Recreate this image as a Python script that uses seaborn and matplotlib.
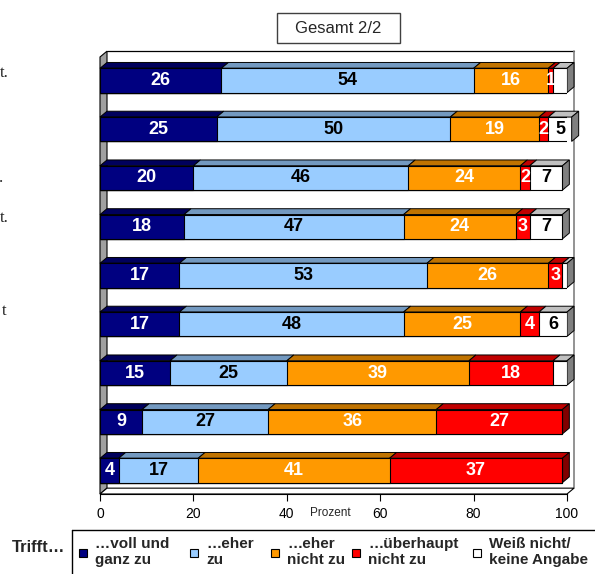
import matplotlib
matplotlib.use("Agg")
import matplotlib.pyplot as plt
from matplotlib.patches import Polygon, Rectangle
from matplotlib.lines import Line2D
import pandas as pd
import seaborn as sns

# --- data -------------------------------------------------------------
rows = [f"Aussage {i}" for i in range(1, 10)]
voll_zu = [26, 25, 20, 18, 17, 17, 15, 9, 4]
eher_zu = [54, 50, 46, 47, 53, 48, 25, 27, 17]
eher_nicht_zu = [16, 19, 24, 24, 26, 25, 39, 36, 41]
ueberhaupt_nicht_zu = [1, 2, 2, 3, 3, 4, 18, 27, 37]
weiss_nicht = [3, 5, 7, 7, 1, 6, 3, 0, 0]

series_names = ["…voll und\nganz zu", "…eher\nzu", "…eher\nnicht zu",
                "…überhaupt\nnicht zu", "Weiß nicht/\nkeine Angabe"]
x_ticks = [0, 20, 40, 60, 80, 100]
title = "Gesamt 2/2"
legend_title = "Trifft…"
axis_label = "Prozent"
# trailing ends of the row captions that reach into the figure
caption_ends = ["t.", "", ".", "t.", "", "t", "", "", ""]

# --- styling ----------------------------------------------------------
front_colors = ["#000080", "#99CCFF", "#FF9900", "#FF0000", "#FFFFFF"]
top_colors = ["#00005C", "#7399C0", "#C07300", "#C00000", "#C0C0C0"]
side_colors = ["#000040", "#4D6680", "#804C00", "#800000", "#808080"]
label_colors = ["white", "black", "white", "white", "black"]
min_label = [1, 1, 1, 1, 5]

W, H = 595, 574
sns.set_theme(style="white")
plt.rcParams["font.family"] = ["Liberation Sans", "DejaVu Sans"]

fig = plt.figure(figsize=(W / 100, H / 100), dpi=100)
ax_top_px, ax_bot_px = 57, 494
ax = fig.add_axes([100 / W, 1 - ax_bot_px / H, 467 / W, (ax_bot_px - ax_top_px) / H])

values = [voll_zu, eher_zu, eher_nicht_zu, ueberhaupt_nicht_zu, weiss_nicht]
df = pd.DataFrame({"row": rows})
cum = [0] * len(rows)
for k, vals in enumerate(values):
    cum = [c + v for c, v in zip(cum, vals)]
    df[f"cum{k}"] = cum

bar_h = 0.5
# stacked fronts: draw the longest cumulative first, shorter ones on top
for k in range(len(values) - 1, -1, -1):
    sns.barplot(data=df, x=f"cum{k}", y="row", order=rows, orient="h",
                color=front_colors[k], saturation=1, width=bar_h,
                edgecolor="black", linewidth=0.8, ax=ax, zorder=3)

y_top = -0.482
y_bot = 8.482
ax.set_xlim(0, 100)
ax.set_ylim(y_bot, y_top)

dx, dy = 1.5, 0.12

# back wall, left wall and floor
ax.add_line(Line2D([dx, 100 + dx], [y_top - dy, y_top - dy], color="black",
                   lw=0.9, clip_on=False, zorder=0.5))
ax.add_line(Line2D([100 + dx, 100 + dx], [y_top - dy, y_bot - dy], color="#808080",
                   lw=1.2, clip_on=False, zorder=0.5))
ax.add_patch(Polygon([(0, y_bot), (0, y_top), (dx, y_top - dy), (dx, y_bot - dy)],
                     closed=True, facecolor="#A0A0A0", edgecolor="black", lw=0.8,
                     clip_on=False, zorder=1))
ax.add_patch(Polygon([(0, y_bot), (dx, y_bot - dy), (100 + dx, y_bot - dy), (100, y_bot)],
                     closed=True, facecolor="white", edgecolor="black", lw=0.8,
                     clip_on=False, zorder=1))

# top and side faces, value labels
for i in range(len(rows)):
    top = i - bar_h / 2
    bot = i + bar_h / 2
    left = 0
    last = None
    for k, vals in enumerate(values):
        w = vals[i]
        if w <= 0:
            continue
        ax.add_patch(Polygon([(left, top), (left + w, top), (left + w + dx, top - dy),
                              (left + dx, top - dy)], closed=True,
                             facecolor=top_colors[k], edgecolor="black", lw=0.7,
                             clip_on=False, zorder=2))
        if w >= min_label[k]:
            ax.text(left + w / 2, i, str(w), ha="center", va="center",
                    fontsize=13, fontweight="bold", color=label_colors[k], zorder=5)
        left += w
        last = k
    ax.add_patch(Polygon([(left, top), (left + dx, top - dy), (left + dx, bot - dy),
                          (left, bot)], closed=True, facecolor=side_colors[last],
                         edgecolor="black", lw=0.7, clip_on=False, zorder=2))

# axes cosmetics
for s in ["top", "right", "left"]:
    ax.spines[s].set_visible(False)
ax.spines["bottom"].set_color("black")
ax.spines["bottom"].set_linewidth(0.8)
ax.set_xticks(x_ticks)
ax.set_xticklabels([str(t) for t in x_ticks])
ax.tick_params(axis="x", bottom=True, length=5, width=0.8, color="black",
               labelsize=10, pad=4, labelcolor="black")
ax.set_yticks([])
ax.set_xlabel("")
ax.set_ylabel("")
ax.set_facecolor("none")
ax.grid(False)

fig.text(330 / W, 1 - 513 / H, axis_label, ha="center", va="center", fontsize=8.5)

# title box
fig.add_artist(Rectangle((277 / W, 1 - 43 / H), 123 / W, 30 / H, transform=fig.transFigure,
                         fill=False, edgecolor="#404040", lw=1))
fig.text(338.5 / W, 1 - 28.5 / H, title, ha="center", va="center", fontsize=12)

# caption ends at the left edge
cap_pos = {0: (9, 73), 2: (3, 178), 3: (9, 218), 5: (6, 311)}
for i, txt in enumerate(caption_ends):
    if txt:
        x, y = cap_pos[i]
        fig.text(x / W, 1 - y / H, txt, ha="right", va="center", fontsize=12,
                 family=["Liberation Serif", "DejaVu Serif"])

# legend
fig.add_artist(Line2D([72 / W, 1], [1 - 529.5 / H, 1 - 529.5 / H], transform=fig.transFigure,
                      color="black", lw=1))
fig.add_artist(Line2D([72 / W, 72 / W], [0, 1 - 529.5 / H], transform=fig.transFigure,
                      color="black", lw=1))
fig.text(12 / W, 1 - 547 / H, legend_title, ha="left", va="center", fontsize=12,
         fontweight="bold")
sq_x = [79, 190, 271, 352, 473]
for k, name in enumerate(series_names):
    fig.add_artist(Rectangle((sq_x[k] / W, 1 - 557 / H), 8 / W, 8 / H,
                             transform=fig.transFigure, facecolor=front_colors[k],
                             edgecolor="black", lw=0.8))
    fig.text((sq_x[k] + 16) / W, 1 - 552 / H, name, ha="left", va="center",
             fontsize=11, fontweight="bold", linespacing=1.2)

fig.savefig("out.png", dpi=100)
